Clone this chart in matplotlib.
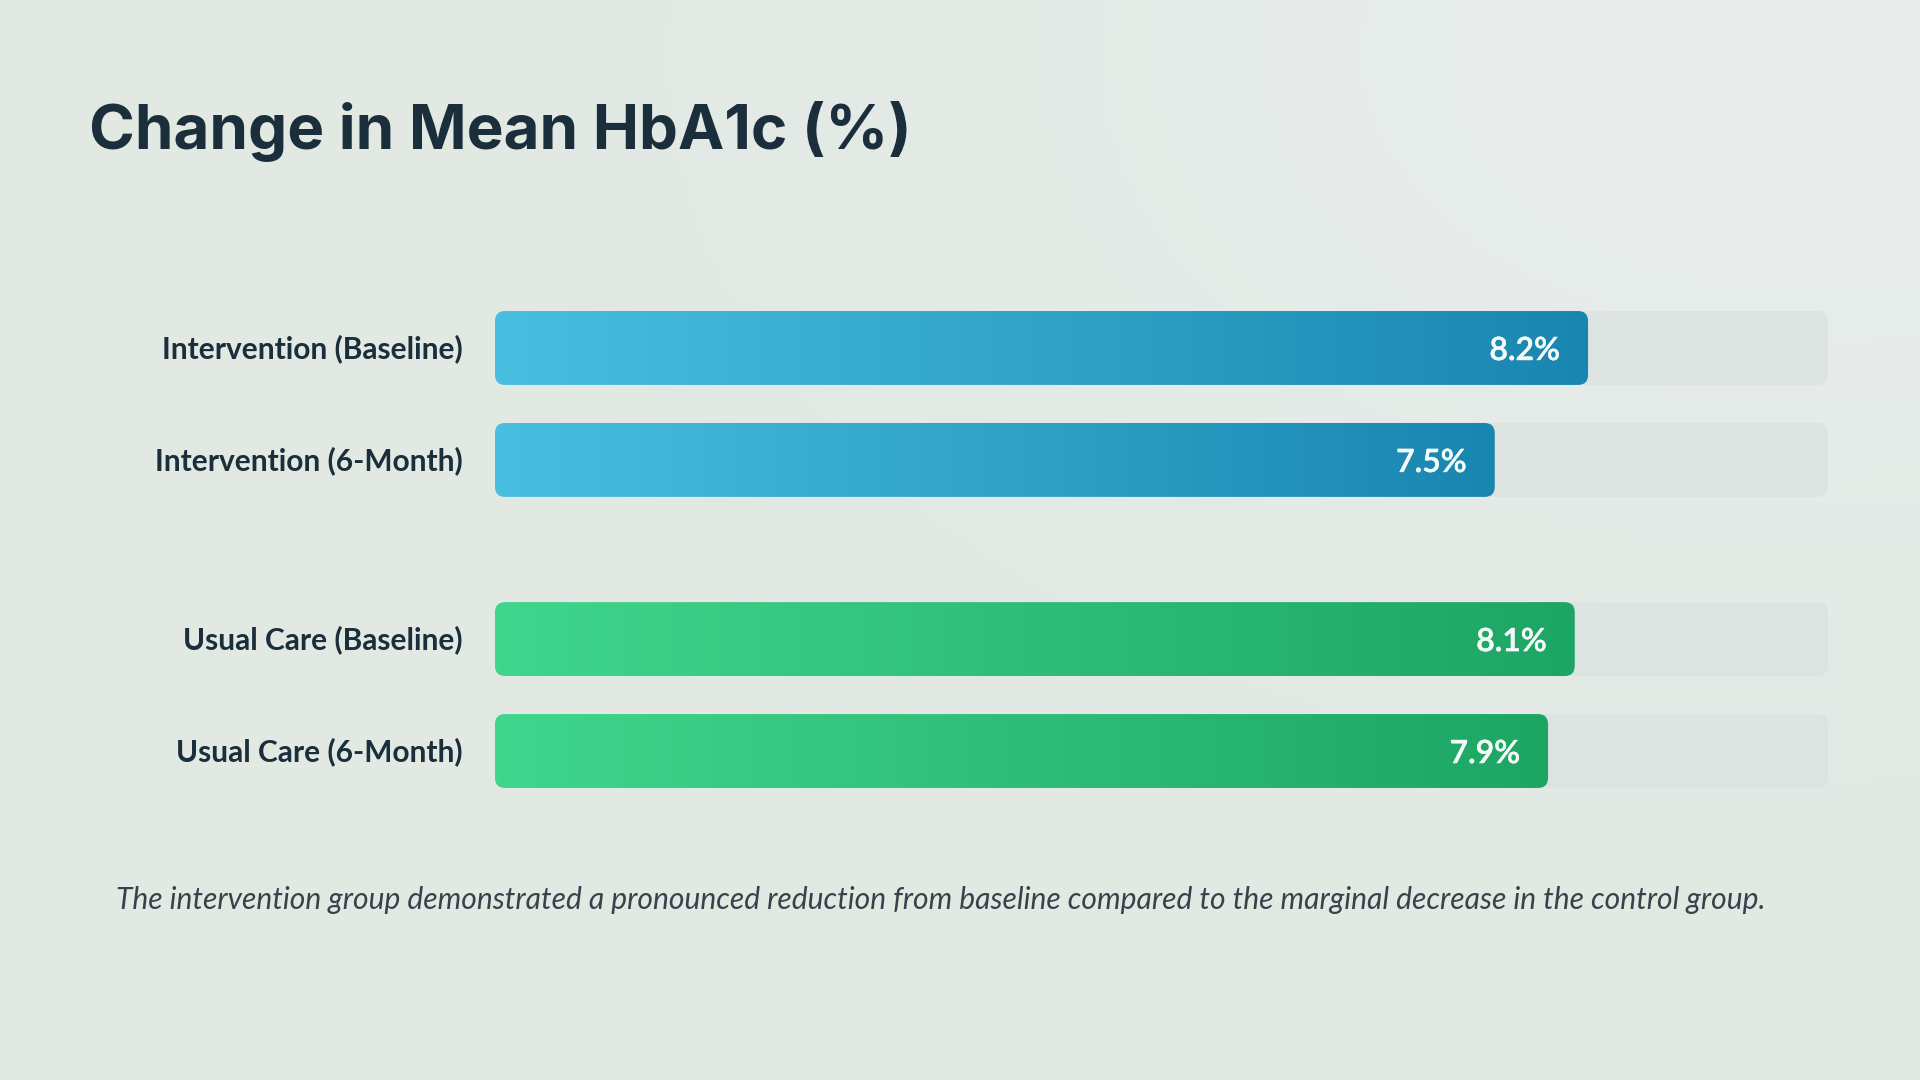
import numpy as np
import matplotlib
matplotlib.use("Agg")
import matplotlib.pyplot as plt
import matplotlib.patheffects as pe
from matplotlib.patches import FancyBboxPatch
from matplotlib.colors import LinearSegmentedColormap, to_rgb

# chart data
TITLE = "Change in Mean HbA1c (%)"
CATEGORIES = [
  "Intervention (Baseline)",
  "Intervention (6-Month)",
  "Usual Care (Baseline)",
  "Usual Care (6-Month)",
]
VALUES = [8.2, 7.5, 8.1, 7.9]
GROUPS = ["intervention", "intervention", "usual", "usual"]
SCALE_MAX = 10.0
NOTE = ("The intervention group demonstrated a pronounced reduction from baseline "
        "compared to the marginal decrease in the control group.")

# styling
GRADIENTS = {"intervention": ("#48bfe1", "#1986b0"), "usual": ("#40d68e", "#1da564")}
ROW_Y = [0, 1, 2.6, 3.6]   # gap between the two groups
BAR_H = 0.66
TRACK_COLOR = "#dce3e1"
TEXT_DARK = "#1b2e3c"
VALUE_COLOR = "#f4faf8"

W, H = 1920, 1080
fig = plt.figure(figsize=(W / 100, H / 100), dpi=100)

# soft background wash, lighter toward the top right
bg = fig.add_axes([0, 0, 1, 1], zorder=-10)
yy, xx = np.mgrid[0:1:200j, 0:1:360j]
base = np.array(to_rgb("#e2e9e3"))
light = np.array(to_rgb("#e8edec"))
wgt = np.exp(-(((xx - 0.95) / 0.45) ** 2 + ((yy - 0.05) / 0.5) ** 2))
img = base[None, None, :] + (light - base)[None, None, :] * wgt[..., None]
bg.imshow(img, extent=[0, 1, 0, 1], aspect="auto", origin="upper")
bg.set_axis_off()

# main bar axes
ax_left, ax_right = 495, 1828
ax_top, ax_bot = 292, 807
ax = fig.add_axes([ax_left / W, 1 - ax_bot / H, (ax_right - ax_left) / W, (ax_bot - ax_top) / H])
ax.set_axis_off()
ax.patch.set_alpha(0)

ylim = (ROW_Y[-1] + 0.5, ROW_Y[0] - 0.5)
px_x = (ax_right - ax_left) / SCALE_MAX
px_y = (ax_bot - ax_top) / (ylim[0] - ylim[1])
radius = 10 / px_x
asp = px_x / px_y
style = f"round,pad=0,rounding_size={radius}"

for cat, val, grp, y in zip(CATEGORIES, VALUES, GROUPS, ROW_Y):
  track = FancyBboxPatch((0, y - BAR_H / 2), SCALE_MAX, BAR_H, boxstyle=style,
                         mutation_aspect=asp, fc=TRACK_COLOR, ec="none", zorder=1)
  ax.add_patch(track)

  bar = FancyBboxPatch((0, y - BAR_H / 2), val, BAR_H, boxstyle=style,
                       mutation_aspect=asp, fc="none", ec="none", zorder=2)
  ax.add_patch(bar)
  cmap = LinearSegmentedColormap.from_list(grp, GRADIENTS[grp])
  grad = ax.imshow(np.linspace(0, 1, 256)[None, :], cmap=cmap, aspect="auto",
                   extent=[0, val, y + BAR_H / 2, y - BAR_H / 2], zorder=2)
  grad.set_clip_path(bar)

  ax.annotate(cat, xy=(0, y), xytext=(-32, -1), textcoords="offset pixels",
              ha="right", va="center", fontsize=21.5, fontfamily="Lato",
              fontweight="bold", color=TEXT_DARK)
  # thin stroke gives the regular weight a semibold look
  ax.annotate(f"{val:.1f}%", xy=(val, y), xytext=(-28, -3), textcoords="offset pixels",
              ha="right", va="center", fontsize=23, fontfamily="Lato",
              fontweight="semibold", color=VALUE_COLOR, zorder=3,
              path_effects=[pe.withStroke(linewidth=0.35, foreground=VALUE_COLOR)])

ax.set_xlim(0, SCALE_MAX)
ax.set_ylim(*ylim)

fig.text(89 / W, 1 - 149 / H, TITLE, ha="left", va="baseline", fontsize=44.6,
         fontfamily="Inter", fontweight="bold", color=TEXT_DARK)
fig.text(116 / W, 1 - 900 / H, NOTE, ha="left", va="center", fontsize=21.6,
         fontfamily="Lato", fontstyle="italic", color="#36434c")

fig.savefig("out.png", dpi=100)
